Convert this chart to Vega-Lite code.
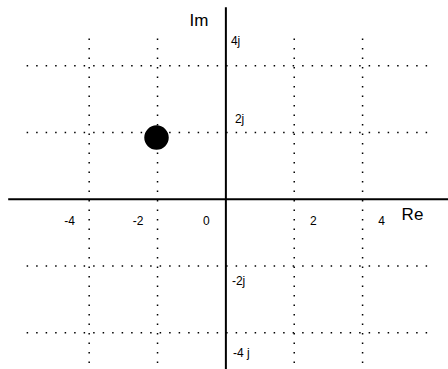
{
  "$schema": "https://vega.github.io/schema/vega-lite/v6.json",
  "width": 448,
  "height": 369,
  "padding": 0,
  "autosize": {"type": "none"},
  "background": "white",
  "config": {"view": {"stroke": null}, "font": "Liberation Sans"},
  "datasets": {
    "reGrid": [{"re": -4}, {"re": -2}, {"re": 2}, {"re": 4}],
    "imGrid": [{"im": -4}, {"im": -2}, {"im": 2}, {"im": 4}],
    "pole": [{"re": -2.03, "im": 1.85}],
    "reNeg": [{"re": -4, "label": "-4"}, {"re": -2, "label": "-2"}, {"re": 0, "label": "0"}],
    "rePos": [{"re": 2, "label": "2"}, {"re": 4, "label": "4"}],
    "imLabels": [{"im": 4, "label": "4j"}, {"im": 2, "label": "2j"}, {"im": -2, "label": "-2j"}, {"im": -4, "label": "-4 j"}],
    "one": [{"k": 1}]
  },
  "layer": [
    {
      "data": {"name": "reGrid"},
      "mark": {"type": "rule", "color": "black", "strokeWidth": 1.5, "strokeDash": [1.5, 8]},
      "encoding": {
        "x": {"field": "re", "type": "quantitative", "scale": {"domain": [-6.6095, 6.4995], "nice": false, "zero": false}, "axis": null},
        "y": {"datum": 4.82, "type": "quantitative", "scale": {"domain": [-5.089, 5.974], "nice": false, "zero": false}, "axis": null},
        "y2": {"datum": -5.09}
      }
    },
    {
      "data": {"name": "imGrid"},
      "mark": {"type": "rule", "color": "black", "strokeWidth": 1.5, "strokeDash": [1.5, 8]},
      "encoding": {
        "y": {"field": "im", "type": "quantitative", "scale": {"domain": [-5.089, 5.974], "nice": false, "zero": false}, "axis": null},
        "x": {"datum": -5.83, "type": "quantitative", "scale": {"domain": [-6.6095, 6.4995], "nice": false, "zero": false}, "axis": null},
        "x2": {"datum": 5.92}
      }
    },
    {
      "data": {"name": "one"},
      "mark": {"type": "rule", "color": "black", "strokeWidth": 2},
      "encoding": {
        "y": {"datum": 0, "type": "quantitative", "scale": {"domain": [-5.089, 5.974], "nice": false, "zero": false}, "axis": null},
        "x": {"datum": -6.37, "type": "quantitative", "scale": {"domain": [-6.6095, 6.4995], "nice": false, "zero": false}, "axis": null},
        "x2": {"datum": 6.5}
      }
    },
    {
      "data": {"name": "one"},
      "mark": {"type": "rule", "color": "black", "strokeWidth": 2},
      "encoding": {
        "x": {"datum": 0, "type": "quantitative", "scale": {"domain": [-6.6095, 6.4995], "nice": false, "zero": false}, "axis": null},
        "y": {"datum": 5.76, "type": "quantitative", "scale": {"domain": [-5.089, 5.974], "nice": false, "zero": false}, "axis": null},
        "y2": {"datum": -5.09}
      }
    },
    {
      "data": {"name": "pole"},
      "mark": {"type": "circle", "color": "black", "opacity": 1, "size": 600},
      "encoding": {
        "x": {"field": "re", "type": "quantitative", "scale": {"domain": [-6.6095, 6.4995], "nice": false, "zero": false}, "axis": null},
        "y": {"field": "im", "type": "quantitative", "scale": {"domain": [-5.089, 5.974], "nice": false, "zero": false}, "axis": null}
      }
    },
    {
      "data": {"name": "reNeg"},
      "mark": {"type": "text", "fontSize": 12, "color": "black", "align": "center", "baseline": "middle", "dx": -19.5, "dy": 22},
      "encoding": {
        "x": {"field": "re", "type": "quantitative", "scale": {"domain": [-6.6095, 6.4995], "nice": false, "zero": false}, "axis": null},
        "y": {"datum": 0, "type": "quantitative", "scale": {"domain": [-5.089, 5.974], "nice": false, "zero": false}, "axis": null},
        "text": {"field": "label"}
      }
    },
    {
      "data": {"name": "rePos"},
      "mark": {"type": "text", "fontSize": 12, "color": "black", "align": "center", "baseline": "middle", "dx": 19, "dy": 22},
      "encoding": {
        "x": {"field": "re", "type": "quantitative", "scale": {"domain": [-6.6095, 6.4995], "nice": false, "zero": false}, "axis": null},
        "y": {"datum": 0, "type": "quantitative", "scale": {"domain": [-5.089, 5.974], "nice": false, "zero": false}, "axis": null},
        "text": {"field": "label"}
      }
    },
    {
      "data": {"name": "imLabels"},
      "transform": [{"filter": "datum.im == 4"}],
      "mark": {"type": "text", "fontSize": 12, "color": "black", "align": "left", "baseline": "middle", "dx": 5, "dy": -25},
      "encoding": {
        "x": {"datum": 0, "type": "quantitative", "scale": {"domain": [-6.6095, 6.4995], "nice": false, "zero": false}, "axis": null},
        "y": {"field": "im", "type": "quantitative", "scale": {"domain": [-5.089, 5.974], "nice": false, "zero": false}, "axis": null},
        "text": {"field": "label"}
      }
    },
    {
      "data": {"name": "imLabels"},
      "transform": [{"filter": "datum.im == 2"}],
      "mark": {"type": "text", "fontSize": 12, "color": "black", "align": "left", "baseline": "middle", "dx": 9, "dy": -13.5},
      "encoding": {
        "x": {"datum": 0, "type": "quantitative", "scale": {"domain": [-6.6095, 6.4995], "nice": false, "zero": false}, "axis": null},
        "y": {"field": "im", "type": "quantitative", "scale": {"domain": [-5.089, 5.974], "nice": false, "zero": false}, "axis": null},
        "text": {"field": "label"}
      }
    },
    {
      "data": {"name": "imLabels"},
      "transform": [{"filter": "datum.im == -2"}],
      "mark": {"type": "text", "fontSize": 12, "color": "black", "align": "left", "baseline": "middle", "dx": 6, "dy": 15.5},
      "encoding": {
        "x": {"datum": 0, "type": "quantitative", "scale": {"domain": [-6.6095, 6.4995], "nice": false, "zero": false}, "axis": null},
        "y": {"field": "im", "type": "quantitative", "scale": {"domain": [-5.089, 5.974], "nice": false, "zero": false}, "axis": null},
        "text": {"field": "label"}
      }
    },
    {
      "data": {"name": "imLabels"},
      "transform": [{"filter": "datum.im == -4"}],
      "mark": {"type": "text", "fontSize": 12, "color": "black", "align": "left", "baseline": "middle", "dx": 7, "dy": 20},
      "encoding": {
        "x": {"datum": 0, "type": "quantitative", "scale": {"domain": [-6.6095, 6.4995], "nice": false, "zero": false}, "axis": null},
        "y": {"field": "im", "type": "quantitative", "scale": {"domain": [-5.089, 5.974], "nice": false, "zero": false}, "axis": null},
        "text": {"field": "label"}
      }
    },
    {
      "data": {"name": "one"},
      "mark": {"type": "text", "fontSize": 17, "color": "black", "align": "center", "baseline": "middle", "dx": -27, "text": "Im"},
      "encoding": {
        "x": {"datum": 0, "type": "quantitative", "scale": {"domain": [-6.6095, 6.4995], "nice": false, "zero": false}, "axis": null},
        "y": {"datum": 5.35, "type": "quantitative", "scale": {"domain": [-5.089, 5.974], "nice": false, "zero": false}, "axis": null}
      }
    },
    {
      "data": {"name": "one"},
      "mark": {"type": "text", "fontSize": 17, "color": "black", "align": "center", "baseline": "middle", "dy": 15.7, "text": "Re"},
      "encoding": {
        "x": {"datum": 5.46, "type": "quantitative", "scale": {"domain": [-6.6095, 6.4995], "nice": false, "zero": false}, "axis": null},
        "y": {"datum": 0, "type": "quantitative", "scale": {"domain": [-5.089, 5.974], "nice": false, "zero": false}, "axis": null}
      }
    }
  ]
}
